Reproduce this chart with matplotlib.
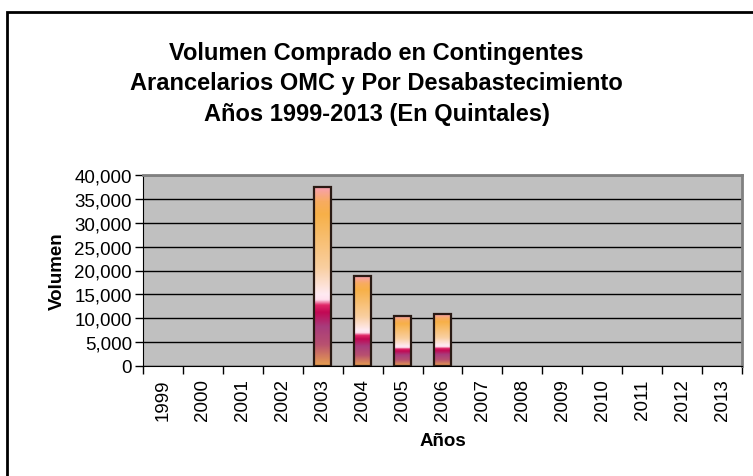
import matplotlib.pyplot as plt
import numpy as np
from matplotlib.colors import LinearSegmentedColormap
from matplotlib.patches import Rectangle

years = ['1999', '2000', '2001', '2002', '2003', '2004', '2005', '2006',
         '2007', '2008', '2009', '2010', '2011', '2012', '2013']
volumen = [0, 0, 0, 0, 37400, 18800, 10400, 10800, 0, 0, 0, 0, 0, 0, 0]

plt.rcParams['font.family'] = ['Liberation Sans', 'DejaVu Sans']

# gradient of the bars, from bottom (0) to top (1)
grad = LinearSegmentedColormap.from_list('sunset', [
    (0.00, '#E8A050'),
    (0.12, '#B85070'),
    (0.22, '#A83C7C'),
    (0.30, '#C20854'),
    (0.34, '#E02868'),
    (0.37, '#FFE0EE'),
    (0.40, '#FFEAF2'),
    (0.55, '#F9CFA0'),
    (0.85, '#F7B048'),
    (0.92, '#F8AC60'),
    (1.00, '#F8A0B0'),
])

fig = plt.figure(figsize=(7.53, 4.77), dpi=100)
ax = fig.add_axes([143 / 753, 1 - 367 / 477, 599 / 753, 191 / 477])
ax.set_facecolor('#C0C0C0')

x = np.arange(len(years))
width = 0.42
ax.yaxis.grid(True, color='black', linewidth=1.0)
ax.set_axisbelow(True)

img = np.linspace(0, 1, 256).reshape(-1, 1)
for xi, v in zip(x, volumen):
    if v <= 0:
        continue
    rect = Rectangle((xi - width / 2, 0), width, v, facecolor='none',
                     edgecolor='#2A1A14', linewidth=1.6, zorder=4)
    ax.add_patch(rect)
    im = ax.imshow(img, cmap=grad, origin='lower', aspect='auto',
                   extent=(xi - width / 2, xi + width / 2, 0, v), zorder=3)
    im.set_clip_path(rect)

ax.set_xlim(-0.5, len(years) - 0.5)
ax.set_ylim(0, 40000)

ax.set_yticks(np.arange(0, 40001, 5000))
ax.set_yticklabels([f'{t:,}' for t in range(0, 40001, 5000)], fontsize=13.5)
ax.set_xticks(x)
ax.set_xticklabels(years, rotation=90, fontsize=13.5)
ax.set_xticks(np.arange(-0.5, len(years), 1), minor=True)
ax.tick_params(axis='x', which='major', length=0, pad=9)
ax.tick_params(axis='x', which='minor', length=6, width=1, direction='out')
ax.tick_params(axis='y', length=6, width=1, direction='out', pad=2)

for side in ['top', 'right']:
    ax.spines[side].set_color('#808080')
    ax.spines[side].set_linewidth(2)
ax.spines['left'].set_color('black')
ax.spines['bottom'].set_color('black')

ax.set_ylabel('Volumen', fontsize=13.5, fontweight='bold', labelpad=6)
ax.set_xlabel('Años', fontsize=13.5, fontweight='bold', labelpad=8)

fig.text(0.5, 1 - 84 / 477,
         'Volumen Comprado en Contingentes\nArancelarios OMC y Por Desabastecimiento\nAños 1999-2013 (En Quintales)',
         ha='center', va='center', fontsize=17, fontweight='bold', linespacing=1.42)

# chart area border
fig.patches.append(Rectangle((7 / 753, -0.1), 1.2, 1 - 12.5 / 477 + 0.1,
                             transform=fig.transFigure, fill=False,
                             edgecolor='black', linewidth=2))

fig.savefig('out.png', dpi=100)
